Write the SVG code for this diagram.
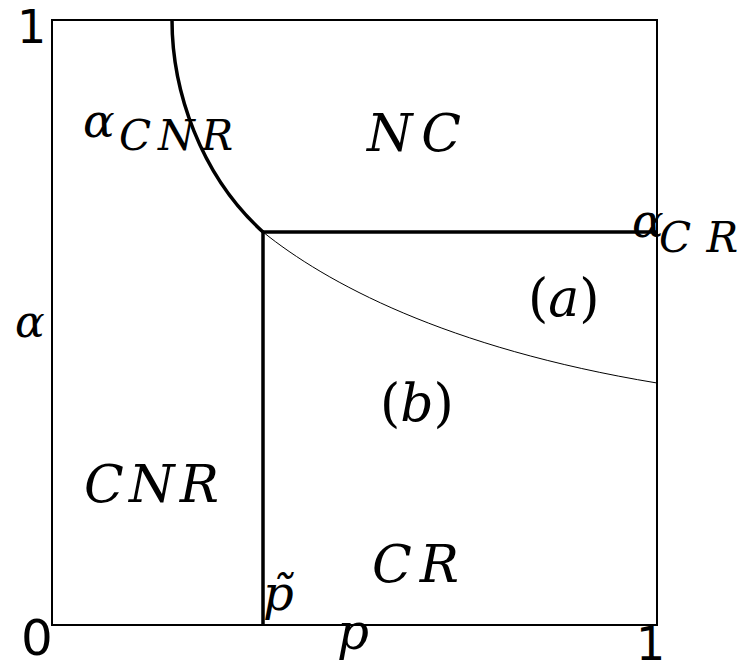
<svg xmlns="http://www.w3.org/2000/svg" width="747" height="664" viewBox="0 0 747 664">
<style>
.m{font-family:"DejaVu Serif","Liberation Serif",serif;font-style:italic;fill:#000}
.u{font-style:normal}
.d{font-family:"DejaVu Sans",sans-serif;fill:#000}
.box{fill:none;stroke:#000;stroke-width:2}
.thick{fill:none;stroke:#000;stroke-width:3.5}
.thin{fill:none;stroke:#000;stroke-width:1}
</style>
<rect width="747" height="664" fill="#fff"/>
<g id="frame">
<rect class="box" x="52" y="20" width="605" height="605"/>
</g>
<g id="connectors">
<path class="thick" d="M172,20 C172,90 200,175 263,232"/>
<path class="thick" d="M263,232 H657"/>
<path class="thick" d="M263,232 V625"/>
<path class="thin" d="M263,232 C325,282 445,348 657,383"/>
</g>
<g id="ticks">
<text class="d" x="17" y="43" font-size="46">1</text>
<text class="d" x="21" y="655" font-size="50">0</text>
<text class="d" x="636" y="660" font-size="46">1</text>
</g>
<g id="axis-labels">
<text class="m" x="15" y="337" font-size="44">α</text>
<text class="m" x="337" y="649" font-size="50">p</text>
<text class="m" x="263" y="610" font-size="48">p̃</text>
</g>
<g id="alpha-cnr">
<text class="m" x="83" y="137" font-size="47">α</text>
<text class="m" x="119" y="150" font-size="42" textLength="114" lengthAdjust="spacing">CNR</text>
</g>
<g id="alpha-cr">
<text class="m" x="632" y="237" font-size="47">α</text>
<text class="m" x="659" y="252" font-size="42" textLength="79" lengthAdjust="spacing">CR</text>
</g>
<g id="region-nc">
<text class="m" x="367" y="151" font-size="52" textLength="94" lengthAdjust="spacing">NC</text>
</g>
<g id="region-cnr">
<text class="m" x="84" y="502" font-size="52" textLength="135" lengthAdjust="spacing">CNR</text>
</g>
<g id="region-cr">
<text class="m" x="372" y="582" font-size="52" textLength="87" lengthAdjust="spacing">CR</text>
</g>
<g id="region-a">
<text class="m" x="528" y="316" font-size="52"><tspan class="u">(</tspan>a<tspan class="u">)</tspan></text>
</g>
<g id="region-b">
<text class="m" x="380" y="421" font-size="52"><tspan class="u">(</tspan>b<tspan class="u">)</tspan></text>
</g>
</svg>
